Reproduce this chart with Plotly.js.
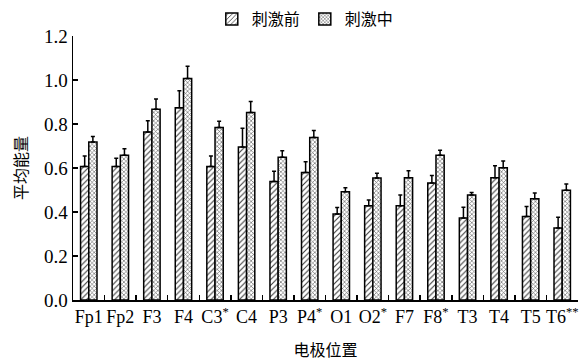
<!DOCTYPE html>
<html>
<head>
<meta charset="utf-8">
<script src="https://cdn.plot.ly/plotly-3.0.1.min.js"></script>
<style>html,body{margin:0;padding:0;background:#fff;}#chart{width:580px;height:361px;}</style>
</head>
<body>
<div id="chart"></div>
<script>
const categories = ["Fp1","Fp2","F3","F4","C3<sup>*</sup>","C4","P3","P4<sup>*</sup>","O1","O2<sup>*</sup>","F7","F8<sup>*</sup>","T3","T4","T5","T6<sup>**</sup>"];
const seriesNames = ["刺激前","刺激中"];
const beforeValues = [0.607,0.607,0.764,0.874,0.607,0.696,0.539,0.579,0.391,0.428,0.428,0.532,0.373,0.556,0.380,0.327];
const beforeErr    = [0.048,0.037,0.051,0.077,0.048,0.085,0.046,0.049,0.029,0.027,0.049,0.034,0.049,0.054,0.045,0.049];
const duringValues = [0.718,0.658,0.867,1.007,0.784,0.852,0.649,0.739,0.492,0.554,0.556,0.658,0.477,0.601,0.460,0.499];
const duringErr    = [0.025,0.029,0.047,0.055,0.028,0.050,0.029,0.031,0.018,0.022,0.032,0.023,0.012,0.031,0.026,0.028];
const yTicks = [0,0.2,0.4,0.6,0.8,1.0,1.2];

const zeros = categories.map(() => 0);
const errStyle = (arr) => ({type:'data', symmetric:false, array:arr, arrayminus:zeros, color:'#000', thickness:1.5, width:2});

const traces = [
  {type:'bar', name:seriesNames[0], x:categories, y:beforeValues,
   marker:{color:'#fff', line:{color:'#000', width:1.5}, pattern:{shape:'/', fgcolor:'#333', bgcolor:'#fff', size:4, solidity:0.25}},
   error_y:errStyle(beforeErr)},
  {type:'bar', name:seriesNames[1], x:categories, y:duringValues,
   marker:{color:'#fff', line:{color:'#000', width:1.5}, pattern:{shape:'x', fgcolor:'#555', bgcolor:'#fff', size:3, solidity:0.35}},
   error_y:errStyle(duringErr)}
];

const serif = "Times New Roman";
const cjk = "Noto Sans CJK SC";

const layout = {
  width:580, height:361,
  margin:{l:73, r:2, t:25, b:61},
  paper_bgcolor:'#fff', plot_bgcolor:'#fff',
  font:{family:serif, color:'#000', size:18},
  barmode:'group', bargap:0.48, bargroupgap:0,
  showlegend:true,
  legend:{orientation:'h', x:0.46, xanchor:'center', y:1.0, yanchor:'bottom', font:{family:cjk, size:16, color:'#000'}, tracegroupgap:0, bgcolor:'rgba(0,0,0,0)'},
  xaxis:{
    type:'category', showline:true, linecolor:'#000', linewidth:1.5,
    ticks:'inside', tickson:'boundaries', ticklen:5, tickcolor:'#000', tickwidth:1.5,
    tickfont:{family:serif, size:18, color:'#000'}, tickangle:0,
    showgrid:false, zeroline:false,
    title:{text:'电极位置', font:{family:cjk, size:16, color:'#000'}, standoff:20}
  },
  yaxis:{
    range:[0,1.2], tickvals:yTicks, tickformat:'.1f',
    showline:true, linecolor:'#000', linewidth:1.5,
    ticks:'inside', ticklen:5, tickcolor:'#000', tickwidth:1.5,
    tickfont:{family:serif, size:19, color:'#000'},
    showgrid:false, zeroline:false,
    title:{text:'平均能量', font:{family:cjk, size:16, color:'#000'}, standoff:12}
  }
};

Plotly.newPlot('chart', traces, layout, {displayModeBar:false, staticPlot:true});
</script>
</body>
</html>
